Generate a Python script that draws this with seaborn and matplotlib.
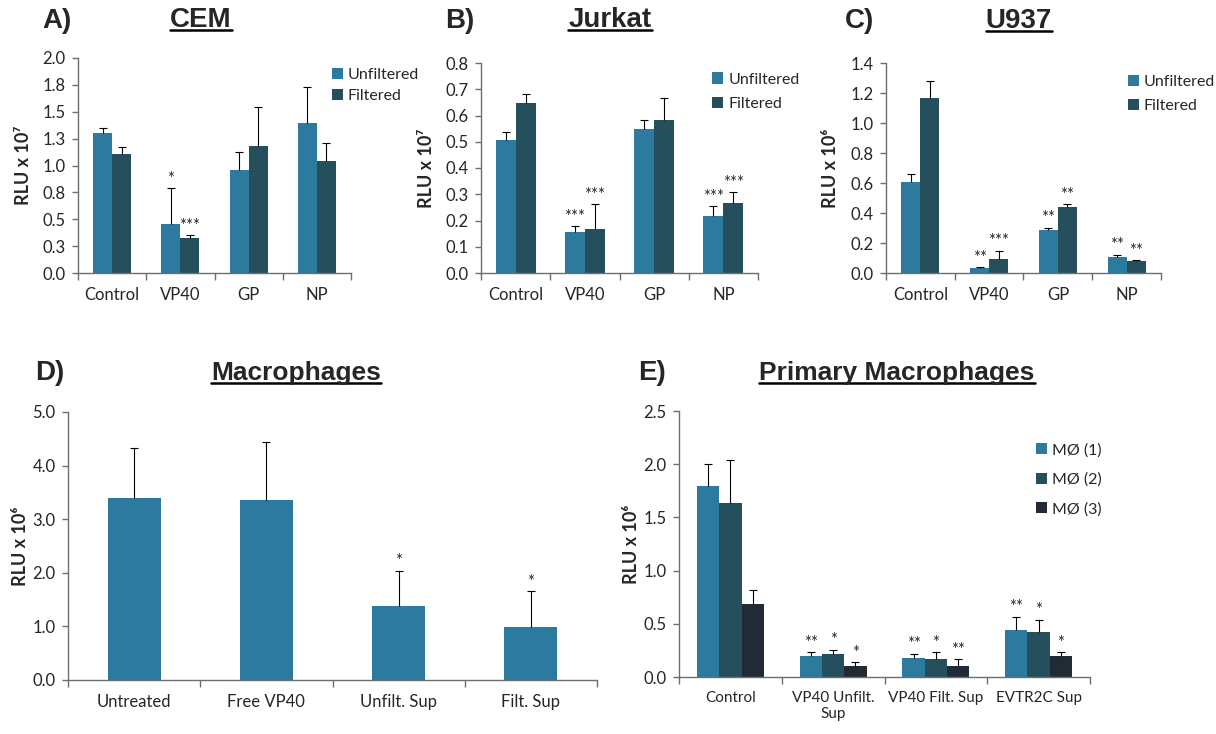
import numpy as np
import pandas as pd
import matplotlib
matplotlib.use("Agg")
import matplotlib.pyplot as plt
from matplotlib.lines import Line2D
import seaborn as sns

# values
cell_groups = ["Control", "VP40", "GP", "NP"]
filter_levels = ["Unfiltered", "Filtered"]

cem_unf = [1.30, 0.46, 0.96, 1.40]
cem_unf_sd = [0.05, 0.33, 0.17, 0.33]
cem_unf_sig = ["", "*", "", ""]
cem_filt = [1.11, 0.33, 1.18, 1.04]
cem_filt_sd = [0.06, 0.02, 0.36, 0.17]
cem_filt_sig = ["", "***", "", ""]
cem_yticks = [0, 0.25, 0.5, 0.75, 1.0, 1.25, 1.5, 1.75, 2.0]
cem_yticklabels = ["0.0", "0.3", "0.5", "0.8", "1.0", "1.3", "1.5", "1.8", "2.0"]

jurkat_unf = [0.508, 0.157, 0.549, 0.218]
jurkat_unf_sd = [0.029, 0.022, 0.034, 0.036]
jurkat_unf_sig = ["", "***", "", "***"]
jurkat_filt = [0.646, 0.166, 0.583, 0.268]
jurkat_filt_sd = [0.037, 0.097, 0.084, 0.039]
jurkat_filt_sig = ["", "***", "", "***"]
jurkat_yticks = [0, 0.1, 0.2, 0.3, 0.4, 0.5, 0.6, 0.7, 0.8]

u937_unf = [0.606, 0.033, 0.288, 0.107]
u937_unf_sd = [0.052, 0.007, 0.013, 0.016]
u937_unf_sig = ["", "**", "**", "**"]
u937_filt = [1.168, 0.091, 0.441, 0.080]
u937_filt_sd = [0.114, 0.058, 0.016, 0.005]
u937_filt_sig = ["", "***", "**", "**"]
u937_yticks = [0, 0.2, 0.4, 0.6, 0.8, 1.0, 1.2, 1.4]

mac_groups = ["Untreated", "Free VP40", "Unfilt. Sup", "Filt. Sup"]
mac_vals = [3.39, 3.36, 1.385, 0.994]
mac_sd = [0.944, 1.087, 0.652, 0.658]
mac_sig = ["", "", "*", "*"]
mac_yticks = [0, 1, 2, 3, 4, 5]

prim_groups = ["Control", "VP40 Unfilt.\nSup", "VP40 Filt. Sup", "EVTR2C Sup"]
prim_levels = ["M\u00d8 (1)", "M\u00d8 (2)", "M\u00d8 (3)"]
prim_m1 = [1.794, 0.198, 0.176, 0.445]
prim_m1_sd = [0.207, 0.037, 0.044, 0.123]
prim_m1_sig = ["", "**", "**", "**"]
prim_m2 = [1.631, 0.213, 0.166, 0.427]
prim_m2_sd = [0.408, 0.044, 0.069, 0.113]
prim_m2_sig = ["", "*", "*", "*"]
prim_m3 = [0.687, 0.107, 0.107, 0.198]
prim_m3_sd = [0.135, 0.034, 0.059, 0.037]
prim_m3_sig = ["", "*", "**", "*"]
prim_yticks = [0, 0.5, 1.0, 1.5, 2.0, 2.5]

colors = ["#2c7a9e", "#264f5d", "#222b35"]
axis_color = "#6e6e6e"

sns.set_style("ticks")
plt.rcParams["font.family"] = ["Lato", "DejaVu Sans"]


def make_df(groups, levels, means, sds, sigs):
    rows = []
    for lvl, m, s, g in zip(levels, means, sds, sigs):
        for grp, mv, sv, gv in zip(groups, m, s, g):
            rows.append([grp, lvl, mv, sv, gv])
    return pd.DataFrame(rows, columns=["group", "series", "value", "sd", "sig"])


def draw_panel(ax, df, groups, levels, width, yticks, yticklabels, ylabel, legend,
               xfont=12):
    sns.barplot(data=df, x="group", y="value", hue="series", order=groups,
                hue_order=levels, palette=colors[:len(levels)], width=width,
                saturation=1, errorbar=None, linewidth=0, ax=ax, legend=legend)
    # upper-only error bars and significance stars
    for lvl, cont in zip(levels, ax.containers):
        sub = df[df.series == lvl].set_index("group").loc[groups]
        for bar, sd, sig in zip(cont, sub["sd"], sub["sig"]):
            x = bar.get_x() + bar.get_width() / 2
            h = bar.get_height()
            _, caps, _ = ax.errorbar(x, h, yerr=[[0], [sd]], fmt="none", ecolor="black",
                                     elinewidth=0.8, capsize=3, capthick=0.8)
            caps[0].set_visible(False)
            if sig:
                ax.annotate(sig, (x, h + sd), xytext=(0, 1), textcoords="offset points",
                            ha="center", va="bottom", fontsize=12)

    n = len(groups)
    ax.set_xlim(-0.5, n - 0.5)
    ax.set_xticks(np.arange(n + 1) - 0.5)
    ax.set_xticklabels([])
    ax.set_xticks(np.arange(n), minor=True)
    ax.set_xticklabels(groups, minor=True, fontsize=xfont)
    ax.tick_params(axis="x", which="major", length=5, width=1, color=axis_color)
    ax.tick_params(axis="x", which="minor", length=0, pad=10)

    ax.set_ylim(0, yticks[-1])
    ax.set_yticks(yticks)
    ax.set_yticklabels(yticklabels if yticklabels else [f"{t:.1f}" for t in yticks],
                       fontsize=12)
    ax.tick_params(axis="y", length=4, width=1, color=axis_color, pad=5)

    ax.set_xlabel("")
    ax.set_ylabel(ylabel, fontsize=13, fontweight="bold")
    for side in ["top", "right"]:
        ax.spines[side].set_visible(False)
    for side in ["left", "bottom"]:
        ax.spines[side].set_color(axis_color)
        ax.spines[side].set_linewidth(1)


W, H = 1216, 734
fig = plt.figure(figsize=(W / 100, H / 100), dpi=100)


def px_axes(left, top, right, bottom):
    return fig.add_axes([left / W, 1 - bottom / H, (right - left) / W, (bottom - top) / H])


axA = px_axes(78, 58, 351, 273)
axB = px_axes(481, 63, 758, 273)
axC = px_axes(886, 63, 1161, 273)
axD = px_axes(68, 412, 597, 680)
axE = px_axes(679, 411, 1090, 677)

dfA = make_df(cell_groups, filter_levels, [cem_unf, cem_filt],
              [cem_unf_sd, cem_filt_sd], [cem_unf_sig, cem_filt_sig])
draw_panel(axA, dfA, cell_groups, filter_levels, 0.56, cem_yticks, cem_yticklabels,
           "RLU x 10\u2077", True)

dfB = make_df(cell_groups, filter_levels, [jurkat_unf, jurkat_filt],
              [jurkat_unf_sd, jurkat_filt_sd], [jurkat_unf_sig, jurkat_filt_sig])
draw_panel(axB, dfB, cell_groups, filter_levels, 0.58, jurkat_yticks, None,
           "RLU x 10\u2077", True)

dfC = make_df(cell_groups, filter_levels, [u937_unf, u937_filt],
              [u937_unf_sd, u937_filt_sd], [u937_unf_sig, u937_filt_sig])
draw_panel(axC, dfC, cell_groups, filter_levels, 0.55, u937_yticks, None,
           "RLU x 10\u2076", True)

dfD = make_df(mac_groups, ["Macrophages"], [mac_vals], [mac_sd], [mac_sig])
draw_panel(axD, dfD, mac_groups, ["Macrophages"], 0.40, mac_yticks, None,
           "RLU x 10\u2076", False)

dfE = make_df(prim_groups, prim_levels, [prim_m1, prim_m2, prim_m3],
              [prim_m1_sd, prim_m2_sd, prim_m3_sd], [prim_m1_sig, prim_m2_sig, prim_m3_sig])
draw_panel(axE, dfE, prim_groups, prim_levels, 0.65, prim_yticks, None,
           "RLU x 10\u2076", True, xfont=11)

# legends
leg_kw = dict(loc="upper left", frameon=False, title=None, fontsize=11.5,
              handlelength=0.7, handleheight=0.7, handletextpad=0.3,
              borderpad=0, borderaxespad=0)
sns.move_legend(axA, bbox_to_anchor=(0.93, 0.955), labelspacing=0.45, **leg_kw)
sns.move_legend(axB, bbox_to_anchor=(0.835, 0.955), labelspacing=0.65, **leg_kw)
sns.move_legend(axC, bbox_to_anchor=(0.88, 0.945), labelspacing=0.65, **leg_kw)
sns.move_legend(axE, bbox_to_anchor=(0.868, 0.88), labelspacing=0.95, **leg_kw)

axA.yaxis.set_label_coords(-0.17, 0.5)
axB.yaxis.set_label_coords(-0.166, 0.5)
axC.yaxis.set_label_coords(-0.17, 0.5)
axD.yaxis.set_label_coords(-0.074, 0.5)
axE.yaxis.set_label_coords(-0.095, 0.5)

# panel letters and underlined titles
title_font = ["Liberation Sans", "DejaVu Sans"]
panel_letters = [("A)", 42, 28), ("B)", 445, 28), ("C)", 845, 28),
                 ("D)", 35, 380), ("E)", 638, 380)]
panel_titles = [("CEM", 201, 27, 20), ("Jurkat", 610, 27, 20), ("U937", 1019, 28, 20),
                ("Macrophages", 296, 380, 19), ("Primary Macrophages", 897, 380, 19)]

for txt, x, y in panel_letters:
    fig.text(x / W, 1 - y / H, txt, fontsize=20, fontweight="bold",
             family=title_font, ha="left", va="baseline")

title_objs = []
for txt, x, y, size in panel_titles:
    t = fig.text(x / W, 1 - y / H, txt, fontsize=size, fontweight="bold",
                 family=title_font, ha="center", va="baseline")
    title_objs.append((t, y))

fig.canvas.draw()
for t, y in title_objs:
    bb = t.get_window_extent()
    yl = 1 - (y + 3) / H
    fig.add_artist(Line2D([bb.x0 / W, bb.x1 / W], [yl, yl], transform=fig.transFigure,
                          color="black", linewidth=1.8))

fig.savefig("out.png", dpi=100, facecolor="white")
